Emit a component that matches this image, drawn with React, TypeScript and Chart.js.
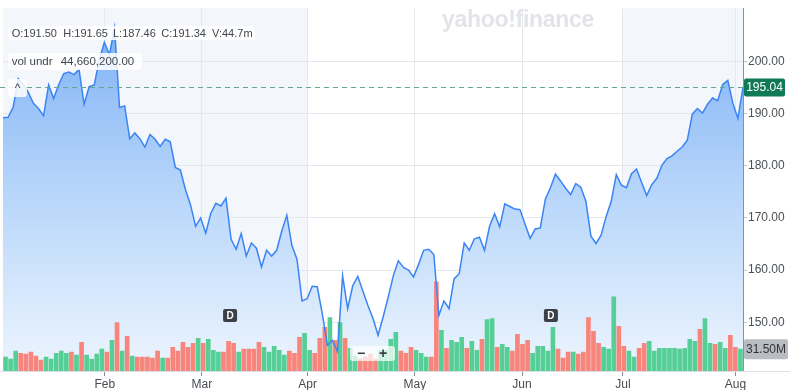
import React, { useEffect, useRef } from "react";
import { Chart, registerables } from "chart.js";

Chart.register(...registerables);

// ---- data ----
const closePrices: number[] = [
  189.2, 189.3, 191.2, 196.7, 195.6, 194.1, 192.0, 191.0, 189.6, 195.5,
  192.9, 195.6, 197.7, 198.0, 197.5, 198.5, 191.8, 195.2, 195.5, 200.4,
  203.7, 201.3, 206.5, 191.2, 191.5, 185.2, 186.3, 185.2, 183.6, 186.0,
  185.1, 183.7, 185.1, 184.6, 179.7, 179.2, 175.4, 172.5, 168.4, 170.0,
  167.1, 170.9, 172.8, 172.3, 173.8, 165.9, 164.0, 167.0, 162.7, 165.2,
  164.2, 160.6, 163.8, 162.7, 163.8, 167.5, 170.5, 164.7, 162.1, 154.1,
  154.5, 156.9, 156.8, 151.6, 145.6, 146.5, 144.4, 158.9, 152.6, 157.0,
  158.8, 156.0, 153.2, 150.7, 147.5, 151.0, 154.8, 158.9, 161.8, 160.5,
  160.0, 158.7, 161.1, 163.8, 164.0, 163.0, 151.3, 154.1, 152.6, 158.3,
  159.3, 165.2, 163.8, 166.0, 166.3, 163.8, 168.4, 170.8, 168.3, 172.7,
  172.2, 171.7, 171.6, 168.8, 166.1, 167.9, 168.1, 173.6, 175.8, 178.4,
  177.1, 175.7, 174.5, 176.6, 175.9, 173.2, 166.5, 165.1, 166.7, 170.3,
  173.2, 178.3, 176.3, 175.8, 178.5, 179.4, 176.8, 174.3, 176.4, 177.6,
  180.1, 181.4, 181.9, 182.8, 183.6, 184.9, 189.9, 191.0, 190.1, 191.8,
  193.0, 192.5, 195.6, 196.4, 192.0, 189.1, 195.04,
];

const volumesM: number[] = [
  20.0, 17.2, 28.6, 25.7, 24.3, 27.2, 21.5, 15.7, 20.0, 17.2,
  25.7, 28.6, 25.7, 27.2, 22.9, 41.5, 22.9, 17.2, 24.3, 31.5,
  27.2, 44.3, 70.1, 28.6, 50.1, 21.5, 20.0, 20.0, 20.0, 18.6,
  28.6, 18.6, 18.6, 34.3, 28.6, 41.5, 34.3, 40.0, 47.2, 40.0,
  45.8, 30.0, 27.2, 27.2, 42.9, 40.0, 27.2, 31.5, 31.5, 31.5,
  41.5, 34.3, 27.2, 35.8, 30.0, 22.9, 28.6, 25.7, 48.6, 54.3,
  30.0, 25.7, 47.2, 62.9, 77.2, 44.3, 70.1, 47.2, 32.9, 21.5,
  17.2, 20.0, 24.3, 17.2, 30.0, 30.0, 45.8, 55.8, 28.6, 25.7,
  34.3, 30.0, 25.7, 20.0, 20.0, 128.7, 58.6, 32.9, 44.3, 41.5,
  48.6, 32.9, 42.9, 30.0, 45.8, 74.4, 75.8, 34.3, 38.6, 34.3,
  28.6, 52.9, 38.6, 44.3, 25.7, 35.8, 35.8, 28.6, 62.9, 31.5,
  18.6, 27.2, 27.2, 24.3, 27.2, 77.2, 57.2, 40.0, 34.3, 31.5,
  107.3, 64.4, 35.8, 28.6, 20.0, 32.9, 40.0, 42.9, 28.6, 32.9,
  32.9, 32.9, 32.9, 31.5, 32.9, 45.8, 42.9, 60.1, 75.8, 40.0,
  38.6, 41.5, 32.9, 51.5, 34.3, 31.5,
];

// G = up day (green), R = down day (red)
const volumeSides: string[] = (
  "GGGRRRRRGG" + "GGGRGRGGGG" + "RGRGRGRRRR" + "RGRRRRRRGR" + "GGGRRRGRRR" +
  "RGGGGGRRRG" + "GRRRGRGRGG" + "RRRRGGGGRR" + "RGGGRRGRGG" + "GRGGRGGRGG" +
  "RRRRGGGGGR" + "RRGRRRRRGG" + "GRRGGRRGGG" + "GGGGGGGRGG" + "RGGRRG"
).split("");

const monthLabels: string[] = ["Feb", "Mar", "Apr", "May", "Jun", "Jul", "Aug"];
const monthTickIndex: number[] = [20.1, 39.25, 60.1, 81.25, 102.4, 122.3, 144.5];
const priceTicks: number[] = [150, 160, 170, 180, 190, 200];
const dividendIndex: number[] = [44.8, 108.1];

const lastPrice = 195.04;
const lastVolumeM = 31.5;
const lastVolumeLabel = "31.50M";

const ohlcLabels: string[] = ["O:191.50", "H:191.65", "L:187.46", "C:191.34", "V:44.7m"];
const volUnderName = "vol undr";
const volUnderValue = "44,660,200.00";

const FONT = "'Liberation Sans', Arial, Helvetica, sans-serif";
const GREEN = "#55cf95";
const RED = "#f7857c";

const overlayPlugin = {
  id: "overlay",
  beforeDraw(chart: any) {
    const { ctx, chartArea: a, scales } = chart;
    const x = scales.x;
    ctx.save();
    ctx.fillStyle = "#f3f6fa";
    const apr = x.getPixelForValue(monthTickIndex[2]);
    const jul = x.getPixelForValue(monthTickIndex[5]);
    ctx.fillRect(a.left, a.top, apr - a.left, a.bottom - a.top);
    ctx.fillRect(jul, a.top, a.right - jul, a.bottom - a.top);
    ctx.restore();
  },
  afterDatasetsDraw(chart: any) {
    const { ctx, chartArea: a, scales } = chart;
    const yPix = Math.round(scales.y.getPixelForValue(lastPrice)) + 0.5;
    ctx.save();
    ctx.strokeStyle = "#62a98f";
    ctx.lineWidth = 1;
    ctx.setLineDash([5, 4]);
    ctx.beginPath();
    ctx.moveTo(0, yPix);
    ctx.lineTo(a.right, yPix);
    ctx.stroke();
    ctx.setLineDash([]);

    // dividend markers
    dividendIndex.forEach((d) => {
      const cx = scales.x.getPixelForValue(d);
      const w = 14, h = 13, top = 309;
      ctx.fillStyle = "#3b4047";
      ctx.beginPath();
      (ctx as any).roundRect(cx - w / 2, top, w, h, 2);
      ctx.fill();
      ctx.fillStyle = "#ffffff";
      ctx.font = `bold 10px ${FONT}`;
      ctx.textAlign = "center";
      ctx.textBaseline = "middle";
      ctx.fillText("D", cx, top + h / 2 + 0.5);
    });
    ctx.restore();
  },
  afterDraw(chart: any) {
    const { ctx, chartArea: a, scales } = chart;
    ctx.save();
    ctx.strokeStyle = "#dcdfe3";
    ctx.lineWidth = 1;
    ctx.beginPath();
    ctx.moveTo(0, a.bottom + 0.5);
    ctx.lineTo(790, a.bottom + 0.5);
    ctx.stroke();

    const yP = scales.y.getPixelForValue(lastPrice);
    ctx.fillStyle = "#107a57";
    ctx.beginPath();
    (ctx as any).roundRect(a.right + 1, yP - 9, 41, 18, 2);
    ctx.fill();
    ctx.fillStyle = "#ffffff";
    ctx.font = `12px ${FONT}`;
    ctx.textAlign = "center";
    ctx.textBaseline = "middle";
    ctx.fillText(lastPrice.toFixed(2), a.right + 21.5, yP + 0.5);

    const yV = scales.y2.getPixelForValue(lastVolumeM);
    ctx.fillStyle = "#b9bcc0";
    ctx.beginPath();
    (ctx as any).roundRect(a.right + 1, yV - 10, 44, 20, 2);
    ctx.fill();
    ctx.fillStyle = "#2f3439";
    ctx.fillText(lastVolumeLabel, a.right + 23, yV + 0.5);
    ctx.restore();
  },
};

export default function App() {
  const canvasRef = useRef<HTMLCanvasElement | null>(null);

  useEffect(() => {
    const canvas = canvasRef.current;
    if (!canvas) return;

    const gradientFill = (c: any) => {
      const chart = c.chart;
      const area = chart.chartArea;
      if (!area) return "rgba(140,185,245,0.6)";
      const g = chart.ctx.createLinearGradient(0, area.top, 0, area.bottom);
      g.addColorStop(0, "#7aaef4");
      g.addColorStop(0.5, "#b6d5fa");
      g.addColorStop(1, "#edf5fe");
      return g;
    };

    const linePts = closePrices.map((v, i) => ({ x: i, y: v }));
    const barPts = volumesM.map((v, i) => ({ x: i + 0.5, y: v }));

    const chart = new Chart(canvas, {
      type: "line",
      data: {
        datasets: [
          {
            type: "line",
            data: linePts,
            yAxisID: "y",
            borderWidth: 0,
            pointRadius: 0,
            fill: "start",
            backgroundColor: gradientFill,
            tension: 0,
            order: 3,
            clip: 0,
          } as any,
          {
            type: "bar",
            data: barPts,
            yAxisID: "y2",
            backgroundColor: volumeSides.map((s) => (s === "G" ? GREEN : RED)),
            barThickness: 4,
            order: 2,
            clip: 0,
          } as any,
          {
            type: "line",
            data: linePts,
            yAxisID: "y",
            borderColor: "#3a84f4",
            borderWidth: 1.5,
            pointRadius: 0,
            fill: false,
            tension: 0,
            order: 1,
            clip: 0,
          } as any,
        ],
      },
      options: {
        responsive: false,
        animation: false,
        events: [],
        layout: { padding: { left: 3, top: 5, right: 0, bottom: 0 } },
        plugins: {
          legend: { display: false },
          tooltip: { enabled: false },
        },
        scales: {
          x: {
            type: "linear",
            min: 0,
            max: 146,
            offset: false,
            afterBuildTicks: (s: any) => {
              s.ticks = monthTickIndex.map((v) => ({ value: v }));
            },
            afterFit: (s: any) => {
              s.height = 19;
            },
            ticks: {
              autoSkip: false,
              maxRotation: 0,
              padding: 1,
              color: "#464c52",
              font: { family: FONT, size: 12 },
              callback: (_v: any, i: number) => monthLabels[i],
            },
            grid: {
              offset: false,
              color: "#e4e7eb",
              tickLength: 5,
              tickColor: "#8a8f95",
            },
            border: { display: false },
          } as any,
          y: {
            type: "linear",
            position: "right",
            min: 140.65,
            max: 210.23,
            afterBuildTicks: (s: any) => {
              s.ticks = priceTicks.map((v) => ({ value: v }));
            },
            afterFit: (s: any) => {
              s.width = 57;
            },
            ticks: {
              padding: 1,
              color: "#4b5157",
              font: { family: FONT, size: 12 },
              callback: (v: any) => Number(v).toFixed(2),
            },
            grid: {
              color: "#e4e7eb",
              tickLength: 4,
              tickColor: "#c5c9ce",
            },
            border: { display: true, color: "#8d9196", width: 1 },
          } as any,
          y2: {
            type: "linear",
            display: false,
            min: 0,
            max: 524,
          } as any,
        },
      },
      plugins: [overlayPlugin],
    });

    return () => chart.destroy();
  }, []);

  const boxBg = "rgba(255,255,255,0.85)";
  const tokenX = [3.7, 55.3, 105, 153.3, 204];

  return (
    <div
      style={{
        position: "absolute",
        left: 0,
        top: 0,
        width: 800,
        height: 390,
        background: "#ffffff",
        fontFamily: FONT,
        overflow: "hidden",
      }}
    >
      <canvas ref={canvasRef} width={800} height={390} style={{ display: "block", width: 800, height: 390 }} />

      <div
        style={{
          position: "absolute",
          left: 442,
          top: 6,
          fontSize: 23,
          fontWeight: 700,
          color: "#e2e4e7",
          letterSpacing: -0.3,
          pointerEvents: "none",
          whiteSpace: "nowrap",
        }}
      >
        yahoo!finance
      </div>

      <div
        style={{
          position: "absolute",
          left: 8,
          top: 26,
          width: 247,
          height: 14,
          background: boxBg,
          borderRadius: 3,
          fontSize: 11,
          lineHeight: "14px",
          color: "#3f464d",
          whiteSpace: "nowrap",
        }}
      >
        {ohlcLabels.map((t, i) => (
          <span key={t} style={{ position: "absolute", left: tokenX[i], top: 0 }}>
            {t}
          </span>
        ))}
      </div>

      <div
        style={{
          position: "absolute",
          left: 8,
          top: 53,
          width: 134,
          height: 17,
          background: boxBg,
          borderRadius: 3,
          fontSize: 11.5,
          lineHeight: "17px",
          color: "#3f464d",
          whiteSpace: "nowrap",
        }}
      >
        <span style={{ position: "absolute", left: 3.7, top: 0 }}>{volUnderName}</span>
        <span style={{ position: "absolute", left: 52.7, top: 0 }}>{volUnderValue}</span>
      </div>

      <div
        style={{
          position: "absolute",
          left: 8,
          top: 79,
          width: 19,
          height: 18,
          background: boxBg,
          borderRadius: 3,
          fontSize: 12,
          lineHeight: "18px",
          textAlign: "center",
          color: "#3f464d",
        }}
      >
        ^
      </div>

      <div
        style={{
          position: "absolute",
          left: 350,
          top: 346,
          width: 45,
          height: 15,
          background: "rgba(255,255,255,0.72)",
          borderRadius: 3,
          fontSize: 14,
          fontWeight: 700,
          lineHeight: "15px",
          color: "#3a3f44",
        }}
      >
        <span style={{ position: "absolute", left: 7, top: 0 }}>−</span>
        <span style={{ position: "absolute", left: 29, top: 0 }}>+</span>
      </div>
    </div>
  );
}
